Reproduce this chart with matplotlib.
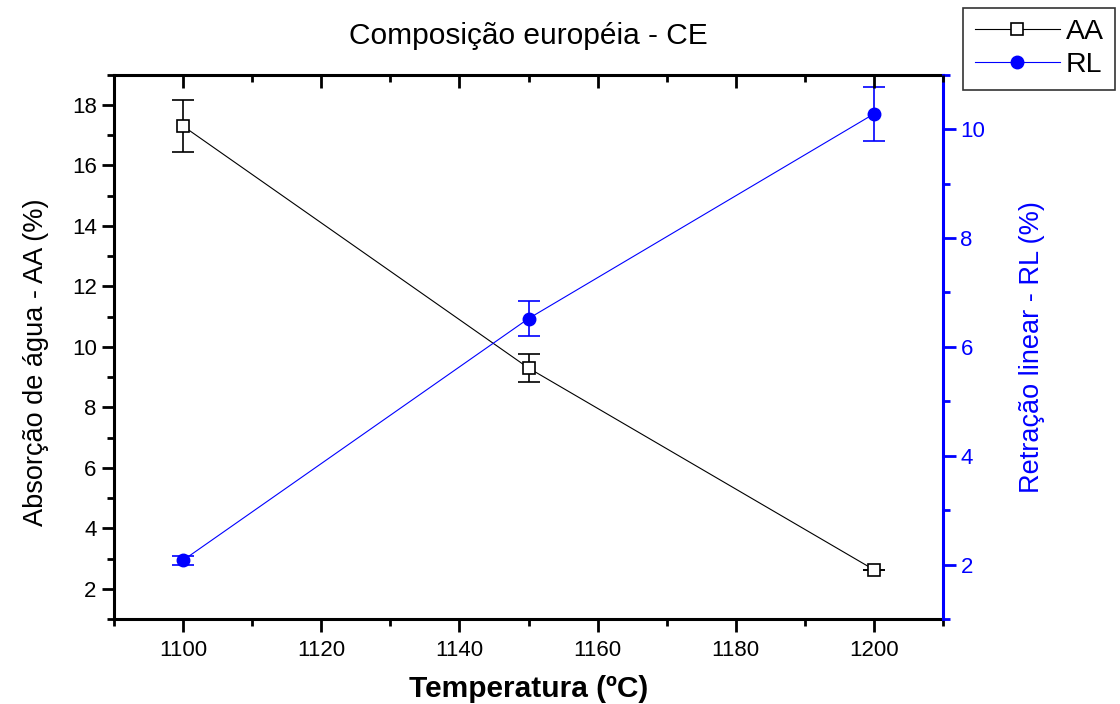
import matplotlib
matplotlib.use("Agg")
import matplotlib.pyplot as plt
from matplotlib.lines import Line2D
from matplotlib.ticker import MultipleLocator

plt.rcParams['font.family'] = ['Liberation Sans', 'DejaVu Sans']

temp = [1100, 1150, 1200]
aa = [17.3, 9.3, 2.63]
aa_err = [0.87, 0.46, 0.0]
rl = [2.08, 6.52, 10.28]
rl_err = [0.08, 0.32, 0.5]

blue = '#0000ff'
rect = [0.1018, 0.1207, 0.7402, 0.7732]

fig = plt.figure(figsize=(11.2, 7.04), dpi=100)
ax = fig.add_axes(rect)
ax2 = ax.twinx()

ax.errorbar(temp, aa, yerr=aa_err, color='black', lw=0.8, marker='s',
            ms=8.5, mfc='white', mec='black', mew=1.2, capsize=8,
            elinewidth=1.2, capthick=1.2)
ax2.errorbar(temp, rl, yerr=rl_err, color=blue, lw=0.8, marker='o',
             ms=9, mfc=blue, mec=blue, capsize=8,
             elinewidth=1.2, capthick=1.2)

ax.set_xlim(1090, 1210)
ax.set_ylim(1, 19)
ax2.set_ylim(1, 11)

ax.xaxis.set_major_locator(MultipleLocator(20))
ax.xaxis.set_minor_locator(MultipleLocator(10))
ax.yaxis.set_major_locator(MultipleLocator(2))
ax.yaxis.set_minor_locator(MultipleLocator(1))
ax2.yaxis.set_major_locator(MultipleLocator(2))
ax2.yaxis.set_minor_locator(MultipleLocator(1))

for s in ['left', 'bottom', 'top']:
    ax.spines[s].set_linewidth(2.2)
ax.spines['right'].set_visible(False)
for s in ['left', 'bottom', 'top']:
    ax2.spines[s].set_visible(False)
ax2.spines['right'].set_linewidth(2.2)
ax2.spines['right'].set_color(blue)

ax.tick_params(axis='x', which='major', direction='out', length=9, width=2,
               labelsize=16, pad=6)
ax.tick_params(axis='x', which='minor', direction='out', length=5, width=2)
ax.tick_params(axis='y', which='major', direction='out', length=9, width=2,
               labelsize=16)
ax.tick_params(axis='y', which='minor', direction='out', length=5, width=2)
ax2.tick_params(axis='y', which='major', direction='out', length=9, width=2,
                labelsize=16, colors=blue)
ax2.tick_params(axis='y', which='minor', direction='out', length=5, width=2,
                colors=blue)

# top edge: inward ticks, no labels (overlay axes without frame)
ax3 = fig.add_axes(rect, sharex=ax, frameon=False)
ax3.patch.set_visible(False)
ax3.set_yticks([])
ax3.tick_params(axis='x', which='both', top=True, bottom=False,
                labeltop=False, labelbottom=False, direction='in',
                width=2, color='black')
ax3.tick_params(axis='x', which='major', length=9)
ax3.tick_params(axis='x', which='minor', length=5)

ax.set_xlabel('Temperatura (ºC)', fontsize=21.5, fontweight='bold', labelpad=10)
ax.set_ylabel('Absorção de água - AA (%)', fontsize=19.5)
ax.yaxis.set_label_coords(-0.078, 0.472)
ax2.set_ylabel('Retração linear - RL (%)', fontsize=19.5, color=blue, labelpad=24)
ax.set_title('Composição européia - CE', fontsize=21.5, pad=22)

h1 = Line2D([], [], color='black', lw=0.8, marker='s', ms=8.5, mfc='white',
            mec='black', mew=1.2)
h2 = Line2D([], [], color=blue, lw=0.8, marker='o', ms=9, mfc=blue, mec=blue)
leg = fig.legend(handles=[h1, h2], labels=['AA', 'RL'], loc='upper left',
                 bbox_to_anchor=(0.86, 0.989), borderaxespad=0,
                 fontsize=20.5, frameon=True, fancybox=False, borderpad=0.4,
                 handlelength=3.0, handletextpad=0.2, labelspacing=0.25)
leg.get_frame().set_edgecolor('black')
leg.get_frame().set_linewidth(1.2)

fig.savefig('out.png', dpi=100)
